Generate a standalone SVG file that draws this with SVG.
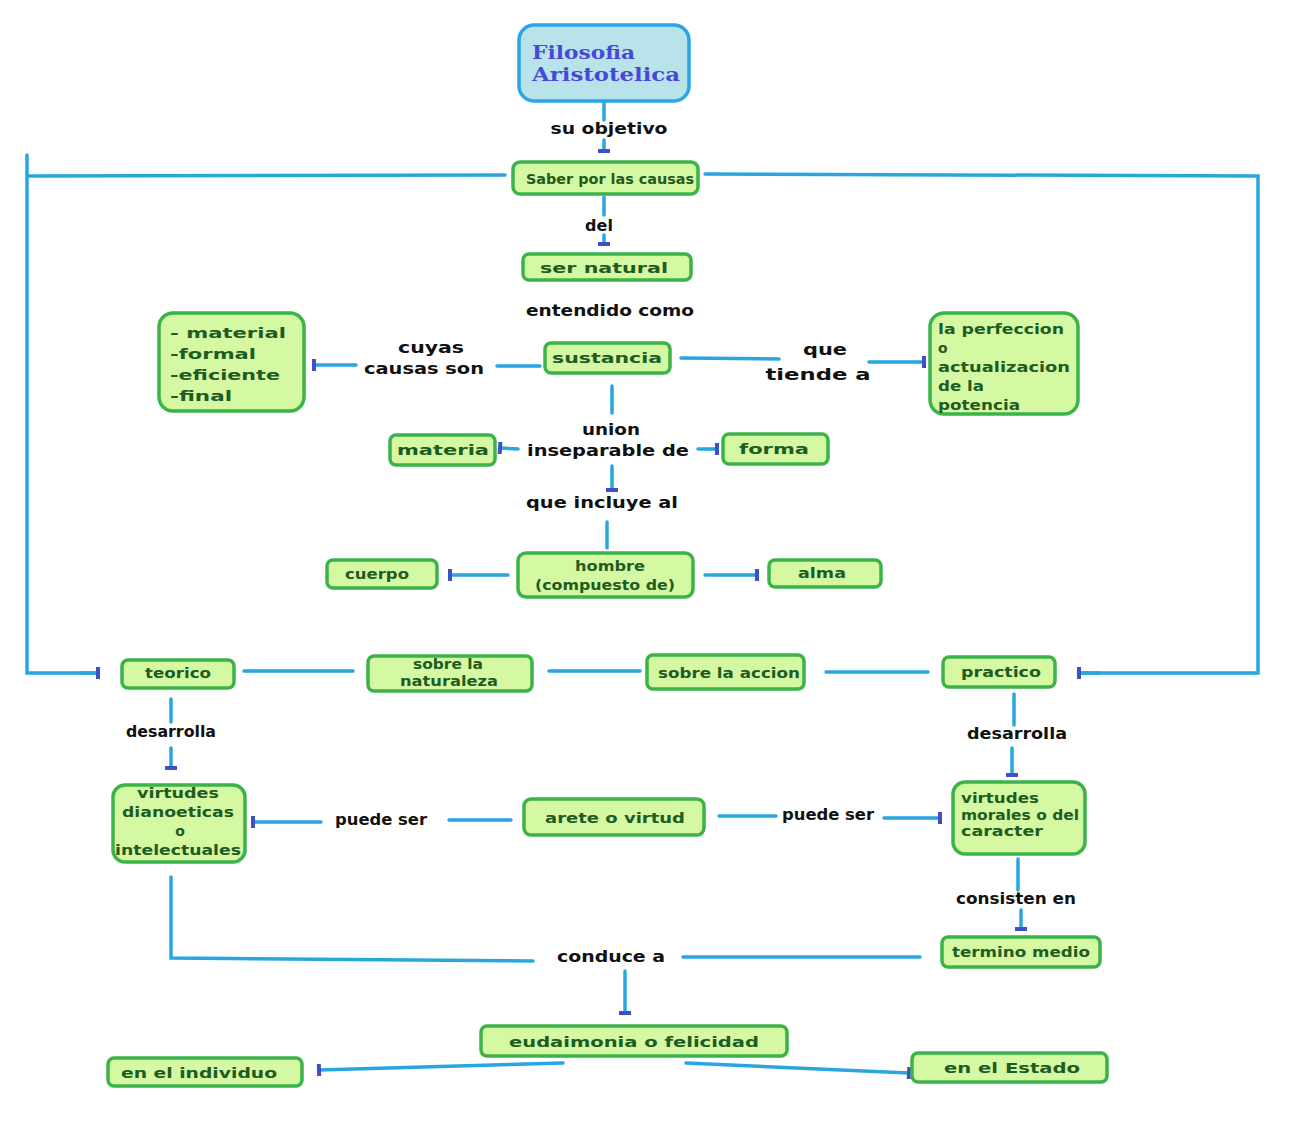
<svg xmlns="http://www.w3.org/2000/svg" width="1298" height="1146" viewBox="0 0 1298 1146">
<defs>
<style>
.n rect{fill:#d5f8a2;stroke:#3cb34a;stroke-width:3.5}
.n text{font-family:"DejaVu Sans","Liberation Sans",sans-serif;font-weight:bold;fill:#1e5c22;font-size:14px}
.t rect{fill:#b9e3ea;stroke:#2aa6e6;stroke-width:3.5}
.t text{font-family:"DejaVu Serif","Liberation Serif",serif;font-weight:bold;fill:#4848d8;font-size:19px}
.lbl{font-family:"DejaVu Sans","Liberation Sans",sans-serif;font-weight:bold;fill:#111;font-size:16px;text-anchor:middle}
.c path,.c line{stroke:#29a6e0;stroke-width:3.5;fill:none;stroke-linecap:round}
.m{text-anchor:middle}
</style>
<marker id="bar" viewBox="-3 -7 6 14" markerWidth="6" markerHeight="14" refX="0" refY="0" orient="auto" markerUnits="userSpaceOnUse">
<rect x="-2" y="-6" width="4" height="12" fill="#3e4fc8"/>
</marker>
</defs>
<rect width="1298" height="1146" fill="#fff"/>

<g id="connectors" class="c">
<line x1="604" y1="101" x2="604" y2="120"/>
<line x1="604" y1="140" x2="604" y2="151" marker-end="url(#bar)"/>
<path d="M505 175 L27 176 L27 155 M27 176 L27 673 L98 673" />
<line x1="80" y1="673" x2="98" y2="673" marker-end="url(#bar)"/>
<path d="M705 174 L1258 176 L1258 673 L1080 673"/>
<line x1="1100" y1="673" x2="1079" y2="673" marker-end="url(#bar)"/>
<line x1="604" y1="197" x2="604" y2="215"/>
<line x1="604" y1="235" x2="604" y2="244" marker-end="url(#bar)"/>
<line x1="540" y1="366" x2="497" y2="366"/>
<line x1="356" y1="365" x2="314" y2="365" marker-end="url(#bar)"/>
<line x1="681" y1="358" x2="779" y2="359"/>
<line x1="869" y1="362" x2="924" y2="362" marker-end="url(#bar)"/>
<line x1="612" y1="386" x2="612" y2="413"/>
<line x1="518" y1="449" x2="500" y2="448" marker-end="url(#bar)"/>
<line x1="698" y1="449" x2="717" y2="449" marker-end="url(#bar)"/>
<line x1="612" y1="466" x2="612" y2="490" marker-end="url(#bar)"/>
<line x1="607" y1="522" x2="607" y2="548"/>
<line x1="508" y1="575" x2="450" y2="575" marker-end="url(#bar)"/>
<line x1="705" y1="575" x2="757" y2="575" marker-end="url(#bar)"/>
<line x1="244" y1="671" x2="353" y2="671"/>
<line x1="549" y1="671" x2="640" y2="671"/>
<line x1="826" y1="672" x2="928" y2="672"/>
<line x1="171" y1="699" x2="171" y2="722"/>
<line x1="171" y1="748" x2="171" y2="768" marker-end="url(#bar)"/>
<line x1="321" y1="822" x2="253" y2="822" marker-end="url(#bar)"/>
<line x1="449" y1="820" x2="511" y2="820"/>
<line x1="719" y1="816" x2="776" y2="816"/>
<line x1="884" y1="818" x2="940" y2="818" marker-end="url(#bar)"/>
<line x1="1014" y1="694" x2="1014" y2="725"/>
<line x1="1012" y1="748" x2="1012" y2="775" marker-end="url(#bar)"/>
<line x1="1018" y1="859" x2="1018" y2="890"/>
<line x1="1021" y1="910" x2="1021" y2="929" marker-end="url(#bar)"/>
<path d="M171 877 L171 958 L533 961"/>
<line x1="683" y1="957" x2="920" y2="957"/>
<line x1="625" y1="971" x2="625" y2="1013" marker-end="url(#bar)"/>
<line x1="563" y1="1063" x2="319" y2="1070" marker-end="url(#bar)"/>
<line x1="686" y1="1063" x2="909" y2="1073" marker-end="url(#bar)"/>
</g>

<g id="labels">
<text class="lbl" x="609" y="134" font-size="14" textLength="117" lengthAdjust="spacingAndGlyphs">su objetivo</text>
<text class="lbl" x="599" y="231" font-size="16">del</text>
<text class="lbl" x="610" y="316" font-size="16" textLength="168" lengthAdjust="spacingAndGlyphs">entendido como</text>
<text class="lbl" x="431" y="353" font-size="16" textLength="66" lengthAdjust="spacingAndGlyphs">cuyas</text>
<text class="lbl" x="424" y="374" font-size="16" textLength="120" lengthAdjust="spacingAndGlyphs">causas son</text>
<text class="lbl" x="825" y="355" font-size="19" textLength="44" lengthAdjust="spacingAndGlyphs">que</text>
<text class="lbl" x="818" y="380" font-size="19" textLength="105" lengthAdjust="spacingAndGlyphs">tiende a</text>
<text class="lbl" x="611" y="435" font-size="16" textLength="58" lengthAdjust="spacingAndGlyphs">union</text>
<text class="lbl" x="608" y="456" font-size="16" textLength="162" lengthAdjust="spacingAndGlyphs">inseparable de</text>
<text class="lbl" x="602" y="508" font-size="16" textLength="152" lengthAdjust="spacingAndGlyphs">que incluye al</text>
<text class="lbl" x="171" y="737" font-size="13" textLength="90" lengthAdjust="spacingAndGlyphs">desarrolla</text>
<text class="lbl" x="381" y="825" font-size="14" textLength="92" lengthAdjust="spacingAndGlyphs">puede ser</text>
<text class="lbl" x="828" y="820" font-size="14" textLength="92" lengthAdjust="spacingAndGlyphs">puede ser</text>
<text class="lbl" x="1017" y="739" font-size="14" textLength="100" lengthAdjust="spacingAndGlyphs">desarrolla</text>
<text class="lbl" x="1016" y="904" font-size="14" textLength="120" lengthAdjust="spacingAndGlyphs">consisten en</text>
<text class="lbl" x="611" y="962" font-size="16" textLength="108" lengthAdjust="spacingAndGlyphs">conduce a</text>
</g>

<g id="n-filosofia" class="t">
<rect x="519" y="25" width="170" height="76" rx="15"/>
<text x="532" y="59" textLength="103" lengthAdjust="spacingAndGlyphs">Filosofia</text>
<text x="532" y="81" textLength="148" lengthAdjust="spacingAndGlyphs">Aristotelica</text>
</g>
<g id="n-saber" class="n">
<rect x="513" y="162" width="185" height="32" rx="7"/>
<text x="610" y="184" class="m" font-size="13" textLength="168" lengthAdjust="spacingAndGlyphs">Saber por las causas</text>
</g>
<g id="n-ser" class="n">
<rect x="523" y="254" width="168" height="26" rx="6"/>
<text x="604" y="273" class="m" font-size="16" textLength="128" lengthAdjust="spacingAndGlyphs">ser natural</text>
</g>
<g id="n-sustancia" class="n">
<rect x="545" y="343" width="125" height="30" rx="6"/>
<text x="607" y="363" class="m" font-size="16" textLength="110" lengthAdjust="spacingAndGlyphs">sustancia</text>
</g>
<g id="n-causas" class="n">
<rect x="159" y="313" width="145" height="98" rx="14"/>
<text x="170" y="338" font-size="17" textLength="116" lengthAdjust="spacingAndGlyphs">- material</text>
<text x="170" y="359" font-size="17" textLength="86" lengthAdjust="spacingAndGlyphs">-formal</text>
<text x="170" y="380" font-size="17" textLength="110" lengthAdjust="spacingAndGlyphs">-eficiente</text>
<text x="170" y="401" font-size="17" textLength="62" lengthAdjust="spacingAndGlyphs">-final</text>
</g>
<g id="n-perfeccion" class="n">
<rect x="930" y="313" width="148" height="101" rx="14"/>
<text x="938" y="334" font-size="14" textLength="126" lengthAdjust="spacingAndGlyphs">la perfeccion</text>
<text x="938" y="353" font-size="14">o</text>
<text x="938" y="372" font-size="14" textLength="132" lengthAdjust="spacingAndGlyphs">actualizacion</text>
<text x="938" y="391" font-size="14" textLength="46" lengthAdjust="spacingAndGlyphs">de la</text>
<text x="938" y="410" font-size="14" textLength="82" lengthAdjust="spacingAndGlyphs">potencia</text>
</g>
<g id="n-materia" class="n">
<rect x="390" y="435" width="105" height="30" rx="6"/>
<text x="443" y="455" class="m" font-size="16" textLength="92" lengthAdjust="spacingAndGlyphs">materia</text>
</g>
<g id="n-forma" class="n">
<rect x="723" y="434" width="105" height="30" rx="6"/>
<text x="774" y="454" class="m" font-size="16" textLength="70" lengthAdjust="spacingAndGlyphs">forma</text>
</g>
<g id="n-hombre" class="n">
<rect x="518" y="553" width="175" height="44" rx="8"/>
<text x="610" y="571" class="m" font-size="15" textLength="70" lengthAdjust="spacingAndGlyphs">hombre</text>
<text x="605" y="590" class="m" font-size="15" textLength="140" lengthAdjust="spacingAndGlyphs">(compuesto de)</text>
</g>
<g id="n-cuerpo" class="n">
<rect x="327" y="560" width="110" height="28" rx="6"/>
<text x="377" y="579" class="m" font-size="14" textLength="64" lengthAdjust="spacingAndGlyphs">cuerpo</text>
</g>
<g id="n-alma" class="n">
<rect x="769" y="560" width="112" height="27" rx="6"/>
<text x="822" y="578" class="m" font-size="14" textLength="48" lengthAdjust="spacingAndGlyphs">alma</text>
</g>
<g id="n-teorico" class="n">
<rect x="122" y="660" width="112" height="28" rx="6"/>
<text x="178" y="678" class="m" font-size="14" textLength="66" lengthAdjust="spacingAndGlyphs">teorico</text>
</g>
<g id="n-naturaleza" class="n">
<rect x="368" y="656" width="164" height="35" rx="6"/>
<text x="448" y="669" class="m" font-size="13" textLength="70" lengthAdjust="spacingAndGlyphs">sobre la</text>
<text x="449" y="686" class="m" font-size="13" textLength="98" lengthAdjust="spacingAndGlyphs">naturaleza</text>
</g>
<g id="n-accion" class="n">
<rect x="647" y="655" width="157" height="34" rx="6"/>
<text x="729" y="678" class="m" font-size="14" textLength="142" lengthAdjust="spacingAndGlyphs">sobre la accion</text>
</g>
<g id="n-practico" class="n">
<rect x="943" y="657" width="112" height="30" rx="6"/>
<text x="1001" y="677" class="m" font-size="14" textLength="80" lengthAdjust="spacingAndGlyphs">practico</text>
</g>
<g id="n-dianoeticas" class="n">
<rect x="113" y="785" width="132" height="77" rx="12"/>
<text x="178" y="798" class="m" font-size="14" textLength="82" lengthAdjust="spacingAndGlyphs">virtudes</text>
<text x="178" y="817" class="m" font-size="14" textLength="112" lengthAdjust="spacingAndGlyphs">dianoeticas</text>
<text x="180" y="836" class="m" font-size="14">o</text>
<text x="178" y="855" class="m" font-size="14" textLength="126" lengthAdjust="spacingAndGlyphs">intelectuales</text>
</g>
<g id="n-arete" class="n">
<rect x="524" y="799" width="180" height="36" rx="7"/>
<text x="615" y="823" class="m" font-size="15" textLength="140" lengthAdjust="spacingAndGlyphs">arete o virtud</text>
</g>
<g id="n-morales" class="n">
<rect x="953" y="782" width="132" height="72" rx="12"/>
<text x="961" y="803" font-size="13" textLength="78" lengthAdjust="spacingAndGlyphs">virtudes</text>
<text x="961" y="820" font-size="13" textLength="118" lengthAdjust="spacingAndGlyphs">morales o del</text>
<text x="961" y="836" font-size="13" textLength="82" lengthAdjust="spacingAndGlyphs">caracter</text>
</g>
<g id="n-termino" class="n">
<rect x="942" y="937" width="158" height="30" rx="6"/>
<text x="1021" y="957" class="m" font-size="14" textLength="138" lengthAdjust="spacingAndGlyphs">termino medio</text>
</g>
<g id="n-eudaimonia" class="n">
<rect x="481" y="1026" width="306" height="30" rx="6"/>
<text x="634" y="1047" class="m" font-size="16" textLength="250" lengthAdjust="spacingAndGlyphs">eudaimonia o felicidad</text>
</g>
<g id="n-individuo" class="n">
<rect x="108" y="1058" width="194" height="28" rx="6"/>
<text x="199" y="1078" class="m" font-size="16" textLength="156" lengthAdjust="spacingAndGlyphs">en el individuo</text>
</g>
<g id="n-estado" class="n">
<rect x="912" y="1053" width="195" height="29" rx="6"/>
<text x="1012" y="1073" class="m" font-size="16" textLength="136" lengthAdjust="spacingAndGlyphs">en el Estado</text>
</g>
</svg>
